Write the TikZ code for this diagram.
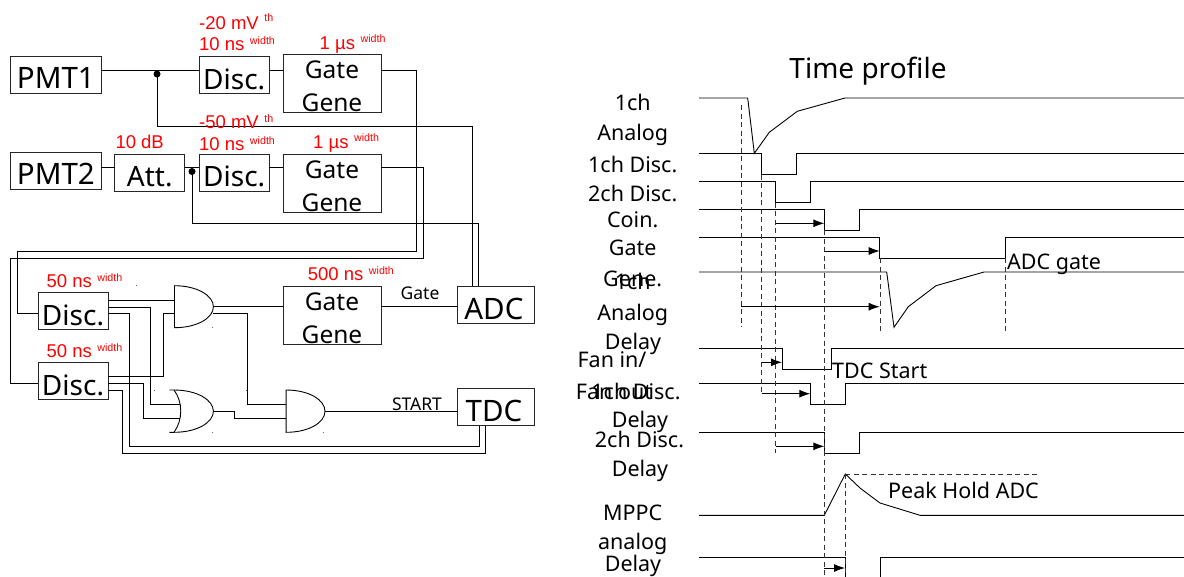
\documentclass[tikz,border=0pt]{standalone}
\usepackage{fontspec}
\setmainfont{Noto Sans}
\newfontfamily\redfont{Liberation Sans}
\usetikzlibrary{arrows.meta}
\definecolor{lbl}{RGB}{255,0,0}
\newcommand{\ggtext}{\vbox{\baselineskip=33.6pt\halign{\hfil##\hfil\cr Gate\cr Gene\cr}}}
\newcommand{\rlab}[3]{{\fontsize{18.5}{20}\selectfont #1}\hspace{5.5pt}\raisebox{#3}{\fontsize{10.7}{12}\selectfont #2}}
\tikzset{
  wire/.style={draw=black,line width=0.9pt,line join=miter},
  sbox/.style={draw=black!85,line width=0.9pt,inner sep=0pt,outer sep=0pt,fill=none,font=\fontsize{28}{30}\selectfont,text depth=0pt},
  wbox/.style={sbox,font=\fontsize{29.5}{30}\selectfont},
  ggbox/.style={sbox,font=\fontsize{24.5}{26}\selectfont,minimum width=98pt,minimum height=58pt,text height=57.5pt},
  bl/.style={text height=#1},
  redlab/.style={text=lbl,font=\redfont,inner sep=0pt,anchor=base west},
  lab/.style={inner sep=0pt,anchor=base,yshift=-1pt,font=\fontsize{21.5}{24}\selectfont},
  labw/.style={inner sep=0pt,anchor=base west,yshift=-1pt,font=\fontsize{21.5}{24}\selectfont},
  gate/.style={draw=black,line width=0.9pt},
  dot/.style={circle,fill=black,inner sep=0pt,minimum size=7pt},
  sig/.style={draw=black,line width=0.9pt},
  guide/.style={draw=black!80,line width=0.9pt,dash pattern=on 5pt off 3.5pt},
  timing/.style={draw=black,line width=0.9pt,-{Latex[length=11pt,width=8pt]}},
  speck/.style={fill=black!60,inner sep=0pt,minimum size=1pt}
}
\begin{document}
\begin{tikzpicture}[x=1pt,y=-1pt]
\useasboundingbox (0,0) rectangle (1184,576);
% boxes
\node[wbox,minimum width=91pt,minimum height=37pt,bl=28pt] (pmta) at (55.9,74.5) {PMT1};
\node[wbox,minimum width=91pt,minimum height=37pt,bl=28.5pt] (pmtb) at (55.9,170.5) {PMT2};
\node[sbox,minimum width=70pt,minimum height=37pt,bl=27pt] (att) at (149.8,172.5) {Att.};
\node[sbox,minimum width=69.6pt,minimum height=37pt,bl=28.5pt] (da) at (234.2,75) {Disc.};
\node[sbox,minimum width=69.6pt,minimum height=37pt,bl=28.5pt] (db) at (234.2,172.5) {Disc.};
\node[sbox,minimum width=70pt,minimum height=37pt,bl=29pt] (dc) at (73,311.3) {Disc.};
\node[sbox,minimum width=70pt,minimum height=37pt,bl=29pt] (dd) at (73,380.8) {Disc.};
\node[ggbox] (ga) at (332,83) {\ggtext};
\node[ggbox] (gb) at (332,183) {\ggtext};
\node[ggbox] (gc) at (332,315) {\ggtext};
\node[wbox,minimum width=77pt,minimum height=37pt,bl=29pt] (adc) at (496.4,304.5) {\kern-5pt ADC};
\node[wbox,minimum width=77pt,minimum height=37pt,bl=29pt] (tdc) at (496.4,407) {\kern-5pt TDC};
% gates
\coordinate (andaa) at (174.5,300);
\coordinate (andab) at (174.5,313.7);
\coordinate (andao) at (213.4,306.7);
\coordinate (orba) at (179.7,404.7);
\coordinate (orbb) at (179.7,418.3);
\coordinate (orbo) at (213.4,411.2);
\coordinate (andca) at (286.1,404.7);
\coordinate (andcb) at (286.1,418.3);
\coordinate (andco) at (325,411.2);
\draw[gate] (174.5,285.7) -- (174.5,327.7) .. controls (197,327.7) and (213.4,318) .. (andao) .. controls (213.4,295.5) and (197,285.7) .. (174.5,285.7) -- cycle;
\draw[gate] (286.1,390) -- (286.1,432.3) .. controls (309,432.3) and (325,422.5) .. (andco) .. controls (325,400) and (309,390) .. (286.1,390) -- cycle;
\draw[gate] (169.3,390) -- (174,390) .. controls (197,390) and (213.4,400) .. (orbo) .. controls (213.4,422.5) and (197,432.3) .. (174,432.3) -- (169.3,432.3);
\draw[gate] (174,390) .. controls (183,402) and (183,420) .. (174,432.3);
% specks
\node[speck] (spa) at (136,285.7) {};
\node[speck] (spb) at (212.3,327.7) {};
\node[speck] (spc) at (154.3,390) {};
\node[speck] (spd) at (212.3,432.3) {};
\node[speck] (spe) at (323,432.3) {};
\node[speck] (spf) at (246.7,390) {};
% junction dots
\node[dot] (ja) at (157,74) {};
\node[dot] (jb) at (192,171.5) {};
% wires
\draw[wire] (pmta.east |- 0,70.5) -- (da.west |- 0,70.5);
\draw[wire] (da.east |- 0,70.5) -- (ga.west |- 0,70.5);
\draw[wire] (ga.east |- 0,70.5) -| (416,251) -| (17.1,313.7) -- (dc.west |- 0,313.7);
\draw[wire] (ja.center) |- (472,126) -- (472,0 |- adc.north);
\draw[wire] (pmtb.east |- 0,167.5) -- (att.west |- 0,167.5);
\draw[wire] (att.east |- 0,167.5) -- (db.west |- 0,167.5);
\draw[wire] (db.east |- 0,167.5) -- (gb.west |- 0,167.5);
\draw[wire] (gb.east |- 0,167.5) -| (423,258.3) -| (10.4,383.7) -- (dd.west |- 0,383.7);
\draw[wire] (jb.center) |- (478.7,223) -- (478.7,0 |- adc.north);
\draw[wire] (dc.east |- 0,300) -- (andaa);
\draw[wire] (dc.east |- 0,307) -| (150.2,404.7) -- (orba);
\draw[wire] (dc.east |- 0,313.7) -| (129.1,446) -| (479,0 |- tdc.south);
\draw[wire] (dd.east |- 0,376) -| (163.7,313.7) -- (andab);
\draw[wire] (dd.east |- 0,383.3) -| (143.3,418.3) -- (orbb);
\draw[wire] (dd.east |- 0,390.3) -| (122.2,453) -| (485.6,0 |- tdc.south);
\draw[wire] (andao) -- (gc.west |- andao);
\draw[wire] (gc.east |- andao) -- (adc.west |- andao);
\draw[wire] (212.9,313.7) -| (247.8,404.7) -- (andca);
\draw[wire] (orbo) -- (234,411.2) -- (234,418.3) -- (andcb);
\draw[wire] (andco) -- (tdc.west |- andco);
% labels left
\node[redlab] (ra) at (199,29.3) {\rlab{-20 mV}{th}{7.5pt}};
\node[redlab] (rb) at (199,50) {\rlab{10 ns}{width}{6pt}};
\node[redlab] (rc) at (319.5,49.3) {\rlab{1 µs}{width}{7pt}};
\node[redlab] (rd) at (199,128) {\rlab{-50 mV}{th}{6pt}};
\node[redlab] (re) at (199,150) {\rlab{10 ns}{width}{6pt}};
\node[redlab] (rf) at (313,148.3) {\rlab{1 µs}{width}{6.5pt}};
\node[redlab,font=\redfont\fontsize{18.5}{20}\selectfont] (rg) at (115.3,148) {10 dB};
\node[redlab] (rh) at (46.4,287) {\rlab{50 ns}{width}{6pt}};
\node[redlab] (ri) at (46.4,357) {\rlab{50 ns}{width}{6pt}};
\node[redlab] (rj) at (307.7,280) {\rlab{500 ns}{width}{6pt}};
\node[inner sep=0pt,anchor=base,font=\fontsize{17.5}{20}\selectfont] (tg) at (420,299.3) {Gate};
\node[inner sep=0pt,anchor=base,font=\fontsize{17.5}{20}\selectfont] (ts) at (417,410.7) {START};
% timing title and labels
\node[inner sep=0pt,anchor=base,font=\fontsize{28}{30}\selectfont] (title) at (868,78.5) {Time profile};
\node[lab] (la) at (632.7,109) {1ch};
\node[lab] (lb) at (632.7,139) {Analog};
\node[lab] (lc) at (632.7,171.7) {1ch Disc.};
\node[lab] (ld) at (632.7,200) {2ch Disc.};
\node[lab] (le) at (632.7,226.7) {Coin.};
\node[lab] (lf) at (632.7,254) {Gate};
\node[lab] (lg) at (632.7,285) {Gene.};
\node[lab] (lh) at (632.7,288) {1ch};
\node[lab] (li) at (632.7,319) {Analog};
\node[lab] (lj) at (633,348) {Delay};
\node[lab] (lk) at (612,366.7) {Fan in/};
\node[lab] (ll) at (614,398) {Fan out};
\node[lab] (lm) at (636,398) {1ch Disc.};
\node[lab] (ln) at (640,426.7) {Delay};
\node[lab] (lo) at (639.5,446.7) {2ch Disc.};
\node[lab] (lp) at (640,475) {Delay};
\node[lab] (lq) at (632.7,519) {MPPC};
\node[lab] (lr) at (632.7,548) {analog};
\node[lab] (ls) at (633,570.7) {Delay};
\node[labw] (ma) at (1007,268.5) {ADC gate};
\node[labw] (mb) at (832,377) {TDC Start};
\node[labw] (mc) at (888,497) {Peak Hold ADC};
% waveforms
\begin{scope}
\clip (0,0) rectangle (1184,576);
\draw[sig] (699,98) -- (747.7,98) -- (754.3,153.3) -- (769.3,132.3) -- (797.3,111.3) -- (845,98) -- (1184,98);
\draw[sig] (699,153.7) -- (761.7,153.7) -- (761.7,174.7) -- (796.7,174.7) -- (796.7,153.7) -- (1184,153.7);
\draw[sig] (699,181.7) -- (775.7,181.7) -- (775.7,202.7) -- (810.3,202.7) -- (810.3,181.7) -- (1184,181.7);
\draw[sig] (699,209.7) -- (824.3,209.7) -- (824.3,230.3) -- (859,230.3) -- (859,209.7) -- (1184,209.7);
\draw[sig] (699,237.3) -- (879.7,237.3) -- (879.7,258.3) -- (1005,258.3) -- (1005,237.3) -- (1184,237.3);
\draw[sig] (699,272) -- (886.7,272) -- (894,327.3) -- (908.3,306.7) -- (936,285.7) -- (984,272) -- (1184,272);
\draw[sig] (699,348.7) -- (782,348.7) -- (782,369.7) -- (831.3,369.7) -- (831.3,348.7) -- (1184,348.7);
\draw[sig] (699,383.3) -- (810.3,383.3) -- (810.3,404.3) -- (845,404.3) -- (845,383.3) -- (1184,383.3);
\draw[sig] (699,432) -- (824.3,432) -- (824.3,453.3) -- (859,453.3) -- (859,432) -- (1184,432);
\draw[sig] (699,515.3) -- (824.3,515.3) -- (845.3,474) -- (860,488) -- (880,503) -- (920,515.3) -- (1184,515.3);
\draw[sig] (699,557.3) -- (845,557.3) -- (845,580);
\draw[sig] (880,580) -- (880,557.3) -- (1184,557.3);
% guides
\draw[guide] (741,105) -- (741,326.7);
\draw[guide] (761.7,174.7) -- (761.7,393.3);
\draw[guide] (775.7,202.7) -- (775.7,453.3);
\draw[guide] (824.3,230.3) -- (824.3,576);
\draw[guide] (880,258.3) -- (880,331.7);
\draw[guide] (1005,258.3) -- (1005,331.7);
\draw[guide] (845.3,474) -- (845.3,576);
\draw[guide] (845.3,474) -- (1040,474);
% delays
\draw[timing] (775.7,223.3) -- (824.3,223.3);
\draw[timing] (824.3,251) -- (879.7,251);
\draw[timing] (741,306.7) -- (879.7,306.7);
\draw[timing] (761.7,362.3) -- (782,362.3);
\draw[timing] (761.7,393.7) -- (810.3,393.7);
\draw[timing] (775.7,446.3) -- (824.3,446.3);
\draw[timing] (824.3,568) -- (845,568);
\end{scope}
\end{tikzpicture}
\end{document}
